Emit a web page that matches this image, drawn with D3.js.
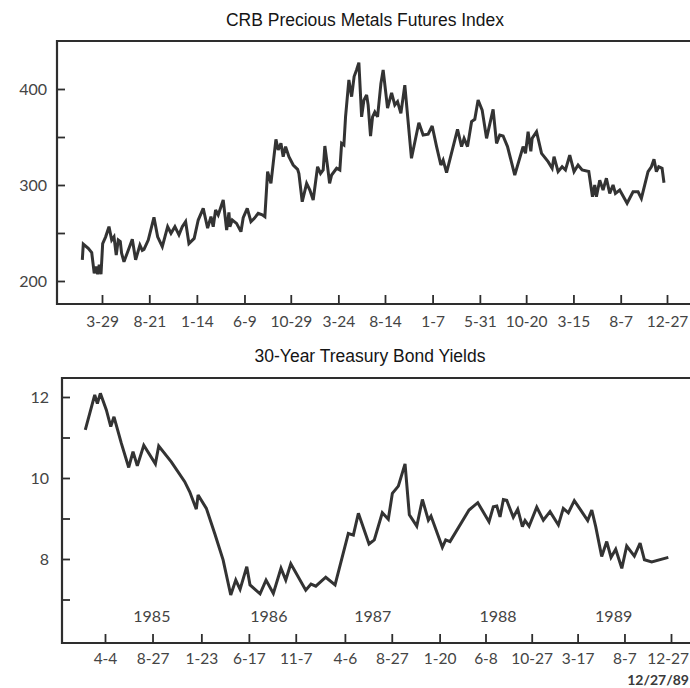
<!DOCTYPE html>
<html>
<head>
<meta charset="utf-8">
<script src="https://cdn.jsdelivr.net/npm/d3@7"></script>
<style>
  html, body { margin: 0; padding: 0; background: #fff; }
  svg { display: block; }
</style>
</head>
<body>
<svg id="chart" width="690" height="688"></svg>
<script>
// ---------- DATA ----------
// Top panel: CRB Precious Metals Futures Index (time as decimal year)
const crbTime = [1985.073,1985.081,1985.123,1985.152,1985.173,1985.188,1985.202,1985.215,1985.230,1985.244,
  1985.269,1985.297,1985.320,1985.339,1985.358,1985.375,1985.392,1985.403,1985.423,1985.459,
  1985.493,1985.521,1985.557,1985.577,1985.591,1985.627,1985.675,1985.706,1985.745,1985.767,
  1985.790,1985.818,1985.851,1985.885,1985.913,1985.941,1985.969,1986.013,1986.047,1986.089,
  1986.126,1986.154,1986.173,1986.193,1986.215,1986.257,1986.286,1986.305,1986.313,1986.333,
  1986.369,1986.406,1986.425,1986.459,1986.490,1986.517,1986.551,1986.585,1986.607,1986.630,
  1986.658,1986.677,1986.700,1986.719,1986.742,1986.761,1986.781,1986.809,1986.845,1986.882,
  1986.893,1986.921,1986.958,1986.985,1987.013,1987.050,1987.075,1987.097,1987.111,1987.134,
  1987.151,1987.168,1987.210,1987.237,1987.252,1987.271,1987.285,1987.313,1987.336,1987.357,
  1987.378,1987.397,1987.420,1987.439,1987.462,1987.475,1987.495,1987.512,1987.531,1987.554,
  1987.582,1987.601,1987.638,1987.672,1987.699,1987.722,1987.750,1987.783,1987.839,1987.901,
  1987.937,1987.979,1988.013,1988.050,1988.086,1988.105,1988.134,1988.226,1988.260,1988.281,
  1988.310,1988.344,1988.371,1988.399,1988.433,1988.470,1988.525,1988.554,1988.581,1988.609,
  1988.646,1988.707,1988.777,1988.797,1988.819,1988.842,1988.853,1988.890,1988.932,1988.987,
  1989.021,1989.037,1989.071,1989.105,1989.133,1989.169,1989.205,1989.239,1989.273,1989.329,
  1989.360,1989.379,1989.393,1989.421,1989.449,1989.477,1989.505,1989.533,1989.553,1989.589,
  1989.651,1989.701,1989.743,1989.771,1989.827,1989.855,1989.877,1989.897,1989.917,1989.945,
  1989.961];
const crbValue = [222,238.5,234,229.5,208,215,207,217,207,239,
  246,256.6,242.7,246,227,242.7,241,229,220,232,
  243.4,222,237.5,232,233,242.7,266.3,246,235.8,246,
  256.6,249.7,256.6,248,256.6,261.8,239,244.4,263.5,275.7,
  255,267,256.6,274,268.8,284.4,253,271.5,256.6,263.5,
  260,251.4,266,275.7,261.8,265,270.5,269,267,313.9,
  301.7,322.5,347.6,336.5,343.4,329.5,340,329.5,320.8,316.3,
  312,282.6,301.7,294.8,284.4,319,312,315.6,340.6,319,
  301.7,310.4,317.4,315.6,343.4,341.7,371,409.4,392,413,
  420,427.4,371,388.3,393.7,383.2,351,371,376,371,
  405.6,419.8,380,396,383.3,386.8,374.6,404,327.8,364.9,
  352,353,361.5,340,320.8,326,312.8,358,340,348.6,
  340,366,368.4,388.5,378,348.6,378.8,343.4,352,351,
  340,310.4,340,333,355.5,335,348.6,355.5,333,324.3,
  317.4,329.5,313.9,319,315.6,331,313.9,320.8,315.6,314,
  287.8,300,287.8,305,294.8,307,291.3,300,291.3,294.8,
  281,293,293,286,313.9,319,326.7,313.9,319,317.4,
  302.4];
const crbTickDates  = ["1985-03-29","1985-08-21","1986-01-14","1986-06-09","1986-10-29","1987-03-24","1987-08-14",
                       "1988-01-07","1988-05-31","1988-10-20","1989-03-15","1989-08-07","1989-12-27"];
const crbTickLabels = ["3-29","8-21","1-14","6-9","10-29","3-24","8-14","1-7","5-31","10-20","3-15","8-7","12-27"];
const crbYMajor = [200, 300, 400];
const crbYMinor = [250, 350];

// Bottom panel: 30-Year Treasury Bond Yields
const bondTime = [1985.090,1985.169,1985.191,1985.216,1985.266,1985.303,1985.330,1985.391,1985.453,1985.489,
  1985.525,1985.579,1985.676,1985.704,1985.809,1985.921,1985.963,1986.018,1986.033,1986.102,
  1986.172,1986.242,1986.306,1986.348,1986.384,1986.440,1986.467,1986.551,1986.601,1986.662,
  1986.726,1986.766,1986.808,1986.933,1986.977,1987.017,1987.100,1987.178,1987.289,1987.331,
  1987.373,1987.462,1987.506,1987.573,1987.623,1987.657,1987.707,1987.763,1987.799,1987.861,
  1987.908,1987.958,1987.980,1988.075,1988.103,1988.139,1988.298,1988.371,1988.465,1988.501,
  1988.530,1988.557,1988.585,1988.613,1988.668,1988.705,1988.744,1988.766,1988.800,1988.864,
  1988.919,1988.975,1989.045,1989.086,1989.128,1989.178,1989.226,1989.290,1989.324,1989.357,
  1989.407,1989.449,1989.485,1989.524,1989.575,1989.616,1989.680,1989.728,1989.764,1989.825,
  1989.964];
const bondValue = [11.19,12.05,11.84,12.09,11.68,11.27,11.51,10.86,10.26,10.65,
  10.30,10.81,10.35,10.79,10.40,9.91,9.66,9.23,9.58,9.25,
  8.63,7.98,7.11,7.48,7.25,7.81,7.36,7.14,7.48,7.15,
  7.77,7.48,7.88,7.23,7.38,7.33,7.55,7.36,8.63,8.59,
  9.13,8.37,8.47,9.14,8.98,9.62,9.80,10.35,9.09,8.81,
  9.47,8.96,9.06,8.29,8.47,8.43,9.21,9.39,8.92,9.29,
  9.31,9.04,9.47,9.45,9.03,9.23,8.80,8.95,8.81,9.28,
  8.96,9.17,8.84,9.25,9.14,9.44,9.23,8.95,9.21,8.80,
  8.06,8.43,8.04,8.24,7.77,8.32,8.07,8.39,7.98,7.93,
  8.04];
const bondTickDates  = ["1985-04-04","1985-08-27","1986-01-23","1986-06-17","1986-11-07","1987-04-06","1987-08-27",
                        "1988-01-20","1988-06-08","1988-10-27","1989-03-17","1989-08-07","1989-12-27"];
const bondTickLabels = ["4-4","8-27","1-23","6-17","11-7","4-6","8-27","1-20","6-8","10-27","3-17","8-7","12-27"];
const bondYMajor = [8, 10, 12];
const bondYMinor = [7, 9, 11];
const yearLabels = ["1985","1986","1987","1988","1989"];
const yearLabelDates = ["1985-08-25","1986-08-17","1987-06-30","1988-07-16","1989-07-05"];

const titleTop = "CRB Precious Metals Futures Index";
const titleBottom = "30-Year Treasury Bond Yields";
const dateNote = "12/27/89";

// ---------- HELPERS ----------
const W = 690;
const parse = d3.timeParse("%Y-%m-%d");
function dec(s) {
  const d = parse(s);
  return d.getFullYear() + d3.timeDay.count(d3.timeYear(d), d) / 365;
}

const svg = d3.select("#chart");
svg.append("rect").attr("width", W).attr("height", 688).attr("fill", "#fff");

const INK = "#2e2e2e";
const TXT = "#444";
const tickFont = "Lato, 'Open Sans', sans-serif";

// keep a text inside the page if it would run past the right edge
function keepInside(sel) {
  sel.each(function () {
    const bb = this.getBBox();
    const m = this.getCTM();
    const right = m.e + bb.x + bb.width;
    if (right > W - 1) {
      d3.select(this).attr("dx", -(right - (W - 1)));
    }
  });
}

function panel(opt) {
  const g = svg.append("g");
  const x = d3.scaleLinear().domain([dec(opt.tickDates[0]), dec(opt.tickDates[opt.tickDates.length - 1])])
    .range(opt.xRange);
  const y = d3.scaleLinear().domain(opt.yDomain).range(opt.yRange);

  // frame (left, top, bottom; right side runs off the page)
  g.append("path")
    .attr("d", `M${opt.frame.right},${opt.frame.top}H${opt.frame.left}V${opt.frame.bottom}H${opt.frame.right}`)
    .attr("fill", "none").attr("stroke", INK).attr("stroke-width", 2.2);

  // x axis
  const xTicks = opt.tickDates.map(dec);
  const xa = g.append("g").attr("transform", `translate(0,${opt.frame.bottom})`)
    .call(d3.axisBottom(x).tickValues(xTicks)
      .tickFormat((d, i) => opt.tickLabels[i]).tickSize(-9).tickPadding(opt.xPad));
  xa.select(".domain").remove();
  xa.selectAll(".tick line").attr("stroke", INK).attr("stroke-width", 1.8);
  xa.selectAll(".tick text").attr("fill", TXT).style("font-family", tickFont).style("font-size", "15.5px");
  keepInside(xa.selectAll(".tick text"));

  // y axis
  const ya = g.append("g").attr("transform", `translate(${opt.frame.left},0)`)
    .call(d3.axisLeft(y).tickValues(opt.yMajor.concat(opt.yMinor).sort((a, b) => a - b))
      .tickFormat(d => opt.yMajor.includes(d) ? d3.format("d")(d) : "").tickSize(-8).tickPadding(opt.yPad));
  ya.select(".domain").remove();
  ya.selectAll(".tick line").attr("stroke", INK).attr("stroke-width", 1.8);
  ya.selectAll(".tick text").attr("fill", TXT).style("font-family", tickFont).style("font-size", "16px");

  // line
  const pts = opt.time.map((t, i) => [t, opt.value[i]]);
  g.append("path").datum(pts)
    .attr("fill", "none").attr("stroke", "#333").attr("stroke-width", 3)
    .attr("stroke-linejoin", "miter").attr("stroke-miterlimit", 3)
    .attr("d", d3.line().x(d => x(d[0])).y(d => y(d[1])));

  // title
  svg.append("text").attr("x", opt.titleX).attr("y", opt.titleY).attr("text-anchor", "middle")
    .style("font-family", "'Liberation Sans', Arial, sans-serif").style("font-size", "17.5px")
    .attr("fill", "#151515").text(opt.title);
  return { x, y, g };
}

const topPanel = panel({
  time: crbTime, value: crbValue, tickDates: crbTickDates, tickLabels: crbTickLabels,
  xRange: [102, 667], yDomain: [200, 400], yRange: [281, 89],
  frame: { left: 57, top: 41, bottom: 304, right: 705 },
  yMajor: crbYMajor, yMinor: crbYMinor, xPad: 12, yPad: 10,
  title: titleTop, titleX: 365, titleY: 26
});

const botPanel = panel({
  time: bondTime, value: bondValue, tickDates: bondTickDates, tickLabels: bondTickLabels,
  xRange: [105, 671], yDomain: [8, 12], yRange: [559, 397],
  frame: { left: 62, top: 378, bottom: 643, right: 705 },
  yMajor: bondYMajor, yMinor: bondYMinor, xPad: 10, yPad: 13,
  title: titleBottom, titleX: 370, titleY: 362
});

// year labels in bottom panel
botPanel.g.selectAll("text.year").data(yearLabels).enter().append("text")
  .attr("class", "year")
  .attr("x", (d, i) => botPanel.x(dec(yearLabelDates[i])))
  .attr("y", 622).attr("text-anchor", "middle")
  .attr("fill", TXT).style("font-family", tickFont).style("font-size", "16px")
  .text(d => d);

// date note at bottom right
svg.append("text").attr("x", 629).attr("y", 685)
  .attr("fill", "#3a3a3a").style("font-family", tickFont).style("font-size", "14px")
  .style("font-weight", "bold").text(dateNote)
  .call(keepInside);
</script>
</body>
</html>
